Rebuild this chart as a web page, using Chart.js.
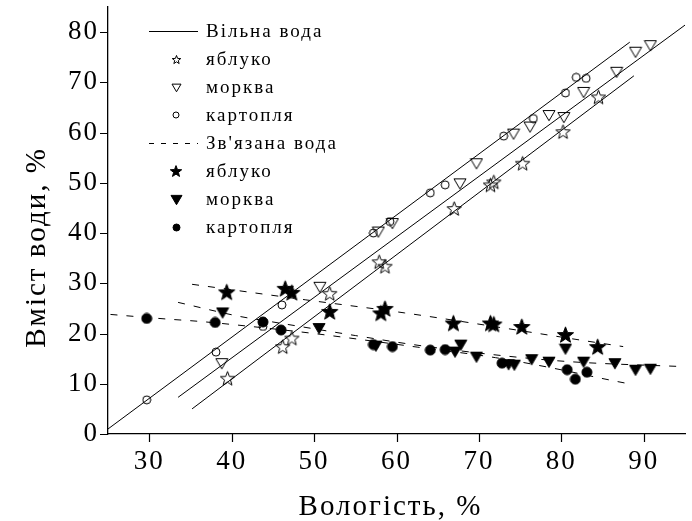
<!DOCTYPE html>
<html>
<head>
<meta charset="utf-8">
<script src="https://cdn.jsdelivr.net/npm/chart.js@4.4.0/dist/chart.umd.min.js"></script>
<style>
  html, body { margin: 0; padding: 0; background: #fff; }
  #wrap { width: 692px; height: 521px; }
</style>
</head>
<body>
<div id="wrap"><canvas id="waterChart" width="692" height="521"></canvas></div>
<script>
'use strict';

// Axis titles and legend labels
let xTitle = 'Вологість, %';
let yTitle = 'Вміст води, %';
let freeLabel = 'Вільна вода';
let boundLabel = 'Зв\'язана вода';
let productLabels = ['яблуко', 'морква', 'картопля'];

// Вільна вода (measured points)
let appleFreeX = [39.5, 46.2, 47.3, 51.9, 57.9, 58.6, 67.0, 71.4, 71.8, 75.3, 80.2, 84.5];
let appleFreeY = [11.1, 17.4, 19.1, 28.0, 34.3, 33.4, 44.9, 49.6, 50.2, 53.9, 60.2, 67.1];
let carrotFreeX = [38.8, 50.7, 57.8, 59.5, 67.7, 69.7, 74.2, 76.2, 78.5, 80.3, 82.7, 86.7, 89.0, 90.8];
let carrotFreeY = [14.1, 29.3, 40.3, 42.0, 49.9, 53.9, 59.8, 61.2, 63.5, 63.1, 68.1, 72.1, 76.1, 77.4];
let potatoFreeX = [29.7, 38.1, 43.8, 46.1, 57.2, 59.2, 64.1, 65.9, 73.0, 76.6, 80.5, 81.8, 83.0];
let potatoFreeY = [6.8, 16.3, 21.4, 25.7, 40.0, 42.3, 48.0, 49.6, 59.3, 62.8, 67.9, 71.0, 70.8];

// Зв'язана вода (measured points)
let appleBoundX = [39.4, 46.5, 47.3, 51.9, 58.1, 58.6, 66.9, 71.4, 71.8, 75.2, 80.5, 84.4];
let appleBoundY = [28.3, 29.0, 28.2, 24.4, 24.1, 25.0, 22.1, 22.1, 21.9, 21.4, 19.8, 17.4];
let carrotBoundX = [38.9, 50.6, 57.5, 67.1, 67.8, 69.7, 73.6, 74.3, 76.4, 78.5, 80.5, 82.7, 86.5, 89.0, 90.8];
let carrotBoundY = [24.2, 21.1, 17.6, 16.4, 17.8, 15.4, 13.9, 13.8, 14.9, 14.4, 17.0, 14.4, 14.1, 12.8, 13.0];
let potatoBoundX = [29.7, 38.0, 43.8, 46.0, 57.2, 59.5, 64.1, 65.9, 72.8, 80.7, 81.7, 83.1];
let potatoBoundY = [23.0, 22.2, 22.3, 20.7, 17.8, 17.4, 16.7, 16.8, 14.1, 12.8, 10.9, 12.3];

// Fit lines
let appleFreeFitX = [35.2, 88.8];
let appleFreeFitY = [5.0, 71.3];
let carrotFreeFitX = [33.5, 95.0];
let carrotFreeFitY = [7.3, 81.4];
let potatoFreeFitX = [25.0, 88.3];
let potatoFreeFitY = [1.0, 78.0];
let appleBoundFitX = [35.2, 49.0, 61.0, 73.0, 82.3, 87.5];
let appleBoundFitY = [29.8, 26.7, 24.1, 21.1, 18.7, 17.4];
let carrotBoundFitX = [33.5, 41.0, 45.0, 55.0, 62.0, 71.7, 81.0, 95.0];
let carrotBoundFitY = [26.2, 23.4, 22.3, 19.6, 17.8, 15.8, 14.4, 13.4];
let potatoBoundFitX = [25.3, 32.0, 36.2, 41.8, 50.0, 62.5, 72.0, 79.0, 86.0, 88.5];
let potatoBoundFitY = [23.8, 22.9, 22.4, 21.5, 20.0, 17.3, 15.2, 13.1, 10.7, 9.9];

const FONT = "'Liberation Serif', 'Times New Roman', serif";

// Marker images (Chart.js 'star' is an asterisk, so draw our own)
function makeMarker(shape, size, filled){
  let c = document.createElement('canvas');
  c.width = size + 2;
  c.height = size + 2;
  let g = c.getContext('2d');
  let m = c.width / 2;
  let r = size / 2;
  g.beginPath();
  if (shape === 'star'){
    for (let i = 0; i < 10; i++){
      let a = -Math.PI / 2 + i * Math.PI / 5;
      let rr = i % 2 ? r * 0.42 : r;
      g.lineTo(m + rr * Math.cos(a), m + rr * Math.sin(a) + r * 0.1);
    }
  } else if (shape === 'tri'){
    g.moveTo(m - r, m - r * 0.75);
    g.lineTo(m + r, m - r * 0.75);
    g.lineTo(m, m + r * 0.95);
  } else {
    g.arc(m, m, r, 0, Math.PI * 2);
  }
  g.closePath();
  g.lineWidth = 1;
  g.strokeStyle = '#000';
  if (filled){
    g.fillStyle = '#000';
    g.fill();
  }
  g.stroke();
  return c;
}

let markers = {
  starOpen: makeMarker('star', 15, false),
  triOpen: makeMarker('tri', 12, false),
  circOpen: makeMarker('circ', 8, false),
  starFull: makeMarker('star', 17, true),
  triFull: makeMarker('tri', 12, true),
  circFull: makeMarker('circ', 10, true)
};
let legendMarkers = {
  starOpen: makeMarker('star', 9, false),
  triOpen: makeMarker('tri', 9, false),
  circOpen: makeMarker('circ', 6, false),
  starFull: makeMarker('star', 12, true),
  triFull: makeMarker('tri', 11, true),
  circFull: makeMarker('circ', 7, true)
};

function toPoints(xs, ys){
  return xs.map((x, i) => ({x: x, y: ys[i]}));
}

function pointSet(label, xs, ys, marker){
  return {
    label: label,
    data: toPoints(xs, ys),
    showLine: false,
    pointStyle: marker,
    pointRadius: 6,
    borderColor: '#000',
    backgroundColor: '#000'
  };
}

function fitSet(label, xs, ys, dashed){
  return {
    label: label,
    data: toPoints(xs, ys),
    showLine: true,
    pointRadius: 0,
    borderColor: '#000',
    borderWidth: 1,
    borderDash: dashed ? [7, 9] : [],
    cubicInterpolationMode: 'monotone',
    fill: false
  };
}

// Minor/major tick marks on the outside of the axes
const axisTicks = {
  id: 'axisTicks',
  afterDraw(chart){
    let ctx = chart.ctx;
    let xs = chart.scales.x;
    let ys = chart.scales.y;
    ctx.save();
    ctx.strokeStyle = '#000';
    ctx.lineWidth = 1.2;
    ctx.beginPath();
    xs.ticks.forEach(t => {
      let px = Math.round(xs.getPixelForValue(t.value)) + 0.5;
      let len = t.value % 10 === 0 ? 8 : 4;
      ctx.moveTo(px, ys.bottom);
      ctx.lineTo(px, ys.bottom + len);
    });
    ys.ticks.forEach(t => {
      let py = Math.round(ys.getPixelForValue(t.value)) + 0.5;
      let len = t.value % 10 === 0 ? 8 : 4;
      ctx.moveTo(xs.left, py);
      ctx.lineTo(xs.left - len, py);
    });
    ctx.stroke();
    ctx.restore();
  }
};

// Letter spacing like the original export
const spacing = {
  id: 'spacing',
  beforeDraw(chart){
    chart.ctx.letterSpacing = '2px';
  }
};

// Axis titles
const axisTitles = {
  id: 'axisTitles',
  afterDraw(chart){
    let ctx = chart.ctx;
    let area = chart.chartArea;
    ctx.save();
    ctx.fillStyle = '#000';
    ctx.font = '29px ' + FONT;
    ctx.letterSpacing = '2px';
    ctx.textAlign = 'center';
    ctx.textBaseline = 'alphabetic';
    ctx.fillText(xTitle, (area.left + area.right) / 2 - 6, chart.height - 6);
    ctx.translate(45, (area.top + area.bottom) / 2 + 27);
    ctx.rotate(-Math.PI / 2);
    ctx.fillText(yTitle, 0, 0);
    ctx.restore();
  }
};

// Legend inside the plot
const insideLegend = {
  id: 'insideLegend',
  afterDraw(chart){
    let ctx = chart.ctx;
    let rows = [
      {text: freeLabel, line: []},
      {text: productLabels[0], marker: legendMarkers.starOpen},
      {text: productLabels[1], marker: legendMarkers.triOpen},
      {text: productLabels[2], marker: legendMarkers.circOpen},
      {text: boundLabel, line: [5, 7]},
      {text: productLabels[0], marker: legendMarkers.starFull},
      {text: productLabels[1], marker: legendMarkers.triFull},
      {text: productLabels[2], marker: legendMarkers.circFull}
    ];
    let x0 = 149;
    let x1 = 198;
    let xm = 176;
    let xt = 206;
    ctx.save();
    ctx.font = '19px ' + FONT;
    ctx.letterSpacing = '2px';
    ctx.fillStyle = '#000';
    ctx.strokeStyle = '#000';
    ctx.textAlign = 'left';
    ctx.textBaseline = 'alphabetic';
    rows.forEach((row, i) => {
      let base = 37 + i * 28;
      let mid = base - 6;
      if (row.line){
        ctx.lineWidth = 1;
        ctx.setLineDash(row.line);
        ctx.beginPath();
        ctx.moveTo(x0, mid + 0.5);
        ctx.lineTo(x1, mid + 0.5);
        ctx.stroke();
        ctx.setLineDash([]);
      } else {
        let m = row.marker;
        ctx.drawImage(m, Math.round(xm - m.width / 2), Math.round(mid - m.height / 2));
      }
      ctx.fillText(row.text, xt, base);
    });
    ctx.restore();
  }
};

let datasets = [
  pointSet(productLabels[0], appleFreeX, appleFreeY, markers.starOpen),
  pointSet(productLabels[1], carrotFreeX, carrotFreeY, markers.triOpen),
  pointSet(productLabels[2], potatoFreeX, potatoFreeY, markers.circOpen),
  pointSet(productLabels[0], appleBoundX, appleBoundY, markers.starFull),
  pointSet(productLabels[1], carrotBoundX, carrotBoundY, markers.triFull),
  pointSet(productLabels[2], potatoBoundX, potatoBoundY, markers.circFull),
  fitSet(freeLabel, appleFreeFitX, appleFreeFitY, false),
  fitSet(freeLabel, carrotFreeFitX, carrotFreeFitY, false),
  fitSet(freeLabel, potatoFreeFitX, potatoFreeFitY, false),
  fitSet(boundLabel, appleBoundFitX, appleBoundFitY, true),
  fitSet(boundLabel, carrotBoundFitX, carrotBoundFitY, true),
  fitSet(boundLabel, potatoBoundFitX, potatoBoundFitY, true)
];

let chartContext = document.getElementById('waterChart');

new Chart(chartContext, { // eslint-disable-line
  type: 'scatter',
  data: {datasets: datasets},
  options: {
    responsive: false,
    animation: false,
    layout: {padding: {top: 6, right: 7, bottom: 0, left: 0}},
    plugins: {
      legend: {display: false},
      tooltip: {enabled: false}
    },
    scales: {
      x: {
        type: 'linear',
        min: 25,
        max: 95,
        afterFit: scale => {
          scale.height = 87;
          scale.paddingLeft = 0;
          scale.paddingRight = 0;
        },
        border: {display: true, color: '#000', width: 1.3},
        grid: {drawOnChartArea: false, drawTicks: true, tickLength: 8, color: 'rgba(0,0,0,0)'},
        ticks: {
          stepSize: 5,
          autoSkip: false,
          maxRotation: 0,
          padding: 4,
          color: '#000',
          font: {family: FONT, size: 27},
          callback: v => (v % 10 === 0 ? v : null)
        }
      },
      y: {
        type: 'linear',
        min: 0,
        max: 85,
        afterFit: scale => {
          scale.width = 108;
          scale.paddingTop = 0;
          scale.paddingBottom = 0;
        },
        border: {display: true, color: '#000', width: 1.3},
        grid: {drawOnChartArea: false, drawTicks: true, tickLength: 8, color: 'rgba(0,0,0,0)'},
        ticks: {
          stepSize: 5,
          autoSkip: false,
          padding: 1,
          color: '#000',
          font: {family: FONT, size: 27},
          callback: v => (v % 10 === 0 ? v : null)
        }
      }
    }
  },
  plugins: [spacing, axisTicks, axisTitles, insideLegend]
});
</script>
</body>
</html>
